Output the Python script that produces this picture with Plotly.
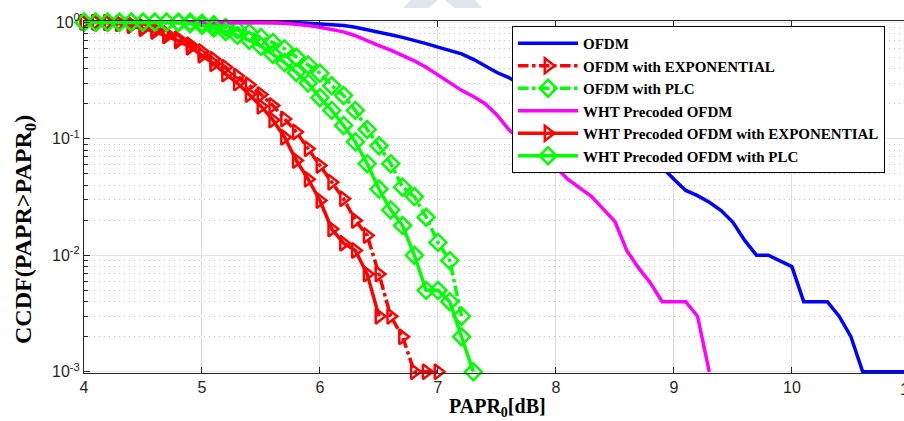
import plotly.graph_objects as go

# PAPR0 grid (dB) shared by all curves (sampled every 0.1 dB)
PAPR_DB = [4.0, 4.1, 4.2, 4.3, 4.4, 4.5, 4.6, 4.7, 4.8, 4.9,
           5.0, 5.1, 5.2, 5.3, 5.4, 5.5, 5.6, 5.7, 5.8, 5.9,
           6.0, 6.1, 6.2, 6.3, 6.4, 6.5, 6.6, 6.7, 6.8, 6.9,
           7.0, 7.1, 7.2, 7.3, 7.4, 7.5, 7.6, 7.7, 7.8, 7.9,
           8.0, 8.1, 8.2, 8.3, 8.4, 8.5, 8.6, 8.7, 8.8, 8.9,
           9.0, 9.1, 9.2, 9.3, 9.4, 9.5, 9.6, 9.7, 9.8, 9.9,
           10.0, 10.1, 10.2, 10.3, 10.4, 10.5, 10.6, 10.7, 10.8, 10.9, 11.0]

ofdm = [1.0, 1.0, 1.0, 1.0, 1.0, 1.0, 1.0, 1.0, 1.0, 1.0,
        1.0, 1.0, 1.0, 1.0, 1.0, 1.0, 0.998, 0.995, 0.99, 0.98,
        0.97, 0.955, 0.935, 0.905, 0.865, 0.82, 0.78, 0.74, 0.70, 0.655,
        0.61, 0.57, 0.535, 0.48, 0.42, 0.37, 0.335, 0.29, 0.25, 0.21,
        0.18, 0.155, 0.13, 0.112, 0.098, 0.088, 0.08, 0.068, 0.062, 0.057,
        0.045, 0.036, 0.0325, 0.0285, 0.0242, 0.0192, 0.0134, 0.01, 0.01, 0.009,
        0.008, 0.004, 0.004, 0.004, 0.003, 0.002, 0.001, 0.001, 0.001, 0.001, 0.001]

ofdm_exp = [1.0, 1.0, 1.0, 0.98, 0.96, 0.92, 0.87, 0.80, 0.72, 0.64,
            0.56, 0.48, 0.41, 0.345, 0.29, 0.24, 0.193, 0.148, 0.114, 0.082,
            0.0589, 0.0423, 0.0305, 0.0199, 0.0148, 0.0069, 0.003, 0.002, 0.001, 0.001,
            0.001]

ofdm_plc = [1.0, 1.0, 1.0, 1.0, 1.0, 1.0, 1.0, 1.0, 1.0, 1.0,
            0.98, 0.95, 0.90, 0.86, 0.81, 0.74, 0.67, 0.59, 0.50, 0.43,
            0.365, 0.285, 0.235, 0.175, 0.12, 0.087, 0.061, 0.0384, 0.0319, 0.0212,
            0.0129, 0.009, 0.003]

wht = [1.0, 1.0, 1.0, 1.0, 1.0, 1.0, 1.0, 1.0, 1.0, 1.0,
       1.0, 1.0, 1.0, 1.0, 1.0, 0.995, 0.99, 0.98, 0.96, 0.935,
       0.905, 0.87, 0.825, 0.765, 0.70, 0.63, 0.575, 0.52, 0.465, 0.41,
       0.35, 0.30, 0.26, 0.23, 0.20, 0.16, 0.12, 0.098, 0.08, 0.063,
       0.057, 0.045, 0.038, 0.032, 0.025, 0.0195, 0.011, 0.0078, 0.0058, 0.004,
       0.004, 0.004, 0.003, 0.001]

wht_exp = [1.0, 1.0, 0.99, 0.97, 0.93, 0.88, 0.83, 0.76, 0.69, 0.61,
           0.52, 0.44, 0.36, 0.30, 0.24, 0.19, 0.145, 0.103, 0.065, 0.045,
           0.0295, 0.0168, 0.0127, 0.011, 0.0069, 0.003]

wht_plc = [1.0, 1.0, 1.0, 1.0, 1.0, 1.0, 1.0, 1.0, 0.99, 0.97,
           0.94, 0.89, 0.83, 0.77, 0.70, 0.62, 0.53, 0.45, 0.37, 0.30,
           0.225, 0.175, 0.13, 0.094, 0.061, 0.037, 0.0245, 0.018, 0.01, 0.005,
           0.005, 0.004, 0.002, 0.001]

y_tickvals = [0.001, 0.01, 0.1, 1]
y_ticktext = ["10<sup>-3</sup>", "10<sup>-2</sup>", "10<sup>-1</sup>", "10<sup>0</sup>"]
x_tickvals = [4, 5, 6, 7, 8, 9, 10, 11]
minor_vals = [m * d for d in (0.001, 0.01, 0.1) for m in range(2, 10)]

series = [
    ("OFDM", ofdm, "#0000FF", "solid", None, 0),
    ("OFDM with EXPONENTIAL", ofdm_exp, "#FF0000", "dashdot", "triangle-right-open", 13),
    ("OFDM with PLC", ofdm_plc, "#00FF00", "dashdot", "diamond-open", 13),
    ("WHT Precoded OFDM", wht, "#FF00FF", "solid", None, 0),
    ("WHT Precoded OFDM with EXPONENTIAL", wht_exp, "#FF0000", "solid", "triangle-right-open", 13),
    ("WHT Precoded OFDM with PLC", wht_plc, "#00FF00", "solid", "diamond-open", 13),
]

fig = go.Figure()
for name, vals, color, dash, sym, msize in series:
    kw = dict(x=PAPR_DB[:len(vals)], y=vals, name=name, cliponaxis=False,
              line=dict(color=color, width=3.5, dash=dash))
    if sym:
        kw["mode"] = "lines+markers"
        kw["marker"] = dict(symbol=sym, size=msize, color=color,
                            line=dict(color=color, width=2.5))
    else:
        kw["mode"] = "lines"
    fig.add_trace(go.Scatter(**kw))

axis_font = dict(family="Liberation Sans, Arial", size=16, color="#262626")
serif = "Liberation Serif, Times New Roman"

fig.update_layout(
    width=904, height=421,
    margin=dict(l=84, r=0, t=21, b=48),
    paper_bgcolor="white", plot_bgcolor="white",
    showlegend=True,
    legend=dict(x=0.522, y=0.9858, xanchor="left", yanchor="top",
                bgcolor="white", bordercolor="black", borderwidth=1,
                font=dict(family=serif, size=15, color="black", weight="bold"),
                itemwidth=60, tracegroupgap=0),
    xaxis=dict(range=[4, 10.95], tickmode="array", tickvals=x_tickvals,
               showgrid=True, gridcolor="#dedede", gridwidth=1,
               showline=True, linecolor="#262626", linewidth=1, mirror="ticks",
               ticks="inside", ticklen=6, tickcolor="#262626",
               tickfont=axis_font, zeroline=False, automargin=False),
    yaxis=dict(type="log", range=[-3.01, 0.01], tickmode="array",
               tickvals=y_tickvals, ticktext=y_ticktext,
               showgrid=True, gridcolor="#e3e3e3", gridwidth=1,
               showline=True, linecolor="#262626", linewidth=1, mirror=False,
               ticks="inside", ticklen=6, tickcolor="#262626",
               tickfont=axis_font, zeroline=False, automargin=False,
               minor=dict(tickmode="array", tickvals=minor_vals, ticks="inside",
                          ticklen=4, tickcolor="#262626", showgrid=True,
                          gridcolor="#c4c4c4", griddash="1px,4px", gridwidth=1)),
    shapes=[
        # faint watermark at the top edge of the source image
        dict(type="path", xref="paper", yref="paper", layer="below",
             path="M 0.389,1.037 L 0.401,1.065 L 0.474,1.065 L 0.486,1.037 "
                  "L 0.452,1.037 L 0.440,1.060 L 0.432,1.060 L 0.420,1.037 Z",
             fillcolor="#dfe5ea", line=dict(width=0)),
    ],
    annotations=[
        dict(text="CCDF(PAPR&gt;PAPR<sub>0</sub>)", textangle=-90,
             xref="paper", yref="paper", x=-0.072, y=0.409,
             xanchor="center", yanchor="middle", showarrow=False,
             font=dict(family=serif, size=24, color="black", weight="bold")),
        dict(text="PAPR<sub>0</sub>[dB]", xref="paper", yref="paper",
             x=0.504, y=-0.097, xanchor="center", yanchor="middle", showarrow=False,
             font=dict(family=serif, size=20, color="black", weight="bold")),
        dict(text="11", xref="paper", yref="paper", x=1.0049, y=-0.018,
             xanchor="center", yanchor="top", showarrow=False, font=axis_font),
    ],
)

fig.write_html("out.html", config={"displayModeBar": False},
               post_script="document.body.style.margin='0px';")
